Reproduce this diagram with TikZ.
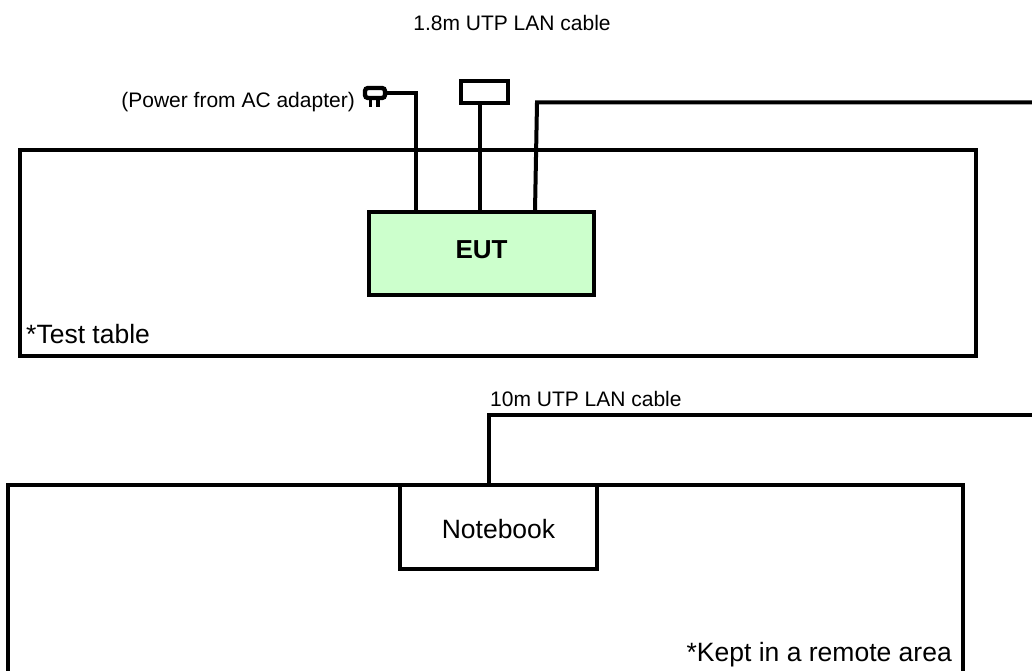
\documentclass[tikz,border=0pt]{standalone}
\usepackage{fontspec}
\setmainfont{Liberation Sans}
\begin{document}
\begin{tikzpicture}[x=1pt,y=-1pt,
  box/.style={draw=black,line width=4pt,inner sep=0pt,outer sep=0pt,anchor=north west},
  wire/.style={draw=black,line width=4pt,line join=miter},
  small/.style={font=\fontsize{21}{24}\selectfont,inner sep=0pt,text=black,anchor=base},
  big/.style={font=\fontsize{26.5}{30}\selectfont,inner sep=0pt,text=black,anchor=base}]
\useasboundingbox (0,0) rectangle (1032,671);
\clip (0,0) rectangle (1032,671);
\node[box,minimum width=956pt,minimum height=205pt] (table) at (20,150.5) {};
\node[box,fill=white,minimum width=954.5pt,minimum height=220pt] (remote) at (8,484.5) {};
\node[box,fill={rgb,255:red,204;green,255;blue,204},minimum width=225.5pt,minimum height=83.5pt] (eut) at (368.5,211.5) {};
\node[box,fill=white,minimum width=196.5pt,minimum height=83.5pt] (nb) at (400,485) {};
\node[box,fill=white,minimum width=47pt,minimum height=22pt] (dev) at (460.5,81.5) {};
\node[font=\bfseries\fontsize{26}{30}\selectfont,inner sep=0pt,anchor=base] (eutl) at (481.5,258) {EUT};
\node[big] (nbl) at (498.5,538) {Notebook};
\node[big,anchor=base west] (tt) at (26,343) {*Test table};
\node[big,anchor=base east] (ka) at (952,661) {*Kept in a remote area};
\node[small] (l1) at (512,31) {1.8m UTP LAN cable};
\node[small,anchor=base east] (l2) at (355,108) {(Power from AC adapter)};
\node[small,anchor=base west] (l3) at (490,406) {10m UTP LAN cable};
% plug
\node[draw=black,line width=4.4pt,rounded corners=3pt,inner sep=0pt,outer sep=0pt,minimum width=20pt,minimum height=10pt] (plug) at (375,93) {};
\draw[line width=3.5pt] (plug.south) ++(-4.5,0) coordinate (p1) -- ++(0,9);
\draw[line width=3.5pt] (plug.south) ++(3,0) coordinate (p2) -- ++(0,9);
\coordinate (c1) at (416,93);
\coordinate (c2) at (480,211);
\coordinate (b1) at (537,102.5);
\coordinate (b2) at (535,211);
\coordinate (e1) at (1032,102.5);
\coordinate (n1) at (489,414.5);
\coordinate (e2) at (1032,414.5);
\draw[wire] (plug.east) -- (c1) -- (c1 |- eut.north);
\draw[wire] (dev.south -| c2) -- (c2);
\draw[wire] (b2) -- (b1) -- (e1);
\draw[wire] (n1 |- nb.north) -- (n1) -- (e2);
\end{tikzpicture}
\end{document}
